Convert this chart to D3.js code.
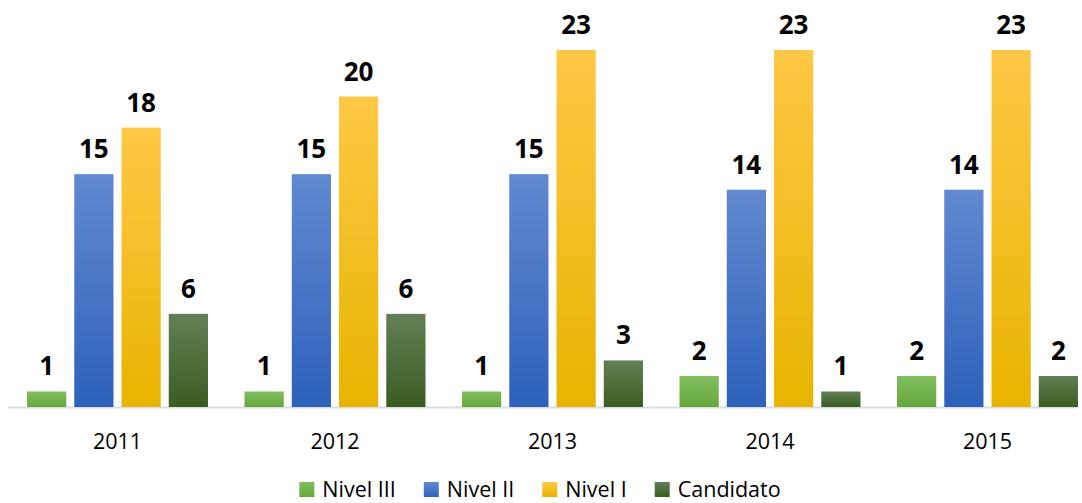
<!DOCTYPE html>
<html>
<head>
<meta charset="utf-8">
<script src="https://cdn.jsdelivr.net/npm/d3@7"></script>
<style>
  html, body { margin: 0; padding: 0; background: #fff; }
  svg { display: block; }
</style>
</head>
<body>
<svg id="chart" width="1082" height="503"></svg>
<script>
const years = ["2011", "2012", "2013", "2014", "2015"];
const seriesNames = ["Nivel III", "Nivel II", "Nivel I", "Candidato"];
const nivelIII = [1, 1, 1, 2, 2];
const nivelII = [15, 15, 15, 14, 14];
const nivelI = [18, 20, 23, 23, 23];
const candidato = [6, 6, 3, 1, 2];
const seriesColors = [
  ["#81be5f", "#66a73b"],
  ["#6189d0", "#2e61bb"],
  ["#ffc846", "#e7b400"],
  ["#637f56", "#3a5d21"]
];

const seriesValues = [nivelIII, nivelII, nivelI, candidato];
const svg = d3.select("#chart");

const defs = svg.append("defs");
seriesColors.forEach((c, i) => {
  const g = defs.append("linearGradient").attr("id", "grad" + i)
    .attr("x1", 0).attr("y1", 0).attr("x2", 0).attr("y2", 1);
  g.append("stop").attr("offset", "0%").attr("stop-color", c[0]);
  g.append("stop").attr("offset", "100%").attr("stop-color", c[1]);
});

const x0 = d3.scaleBand().domain(years).range([8.75, 1096.25])
  .paddingInner(0.168).paddingOuter(0.084);
const x1 = d3.scaleBand().domain(seriesNames).range([0, x0.bandwidth()])
  .paddingInner(0.17).paddingOuter(0);
const y = d3.scaleLinear().domain([0, 23]).range([407, 50]);

// axis line
svg.append("line")
  .attr("x1", 8).attr("x2", 1078)
  .attr("y1", 407.5).attr("y2", 407.5)
  .attr("stroke", "#d9dde5").attr("stroke-width", 2);

const groups = svg.selectAll("g.year").data(years).enter().append("g")
  .attr("class", "year")
  .attr("transform", d => `translate(${x0(d)},0)`);

seriesNames.forEach((s, si) => {
  groups.append("rect")
    .attr("x", x1(s))
    .attr("width", x1.bandwidth())
    .attr("y", (d, i) => y(seriesValues[si][i]))
    .attr("height", (d, i) => y(0) - y(seriesValues[si][i]))
    .attr("fill", `url(#grad${si})`);
  groups.append("text")
    .attr("x", x1(s) + x1.bandwidth() / 2)
    .attr("y", (d, i) => y(seriesValues[si][i]) - 16)
    .attr("text-anchor", "middle")
    .attr("font-family", "'Open Sans', sans-serif")
    .attr("font-weight", "bold")
    .attr("font-size", 26)
    .attr("fill", "#000")
    .text((d, i) => seriesValues[si][i]);
});

// x axis labels
svg.append("g").selectAll("text").data(years).enter().append("text")
  .attr("x", d => x0(d) + x0.bandwidth() / 2)
  .attr("y", 449)
  .attr("text-anchor", "middle")
  .attr("font-family", "'Open Sans', sans-serif")
  .attr("font-size", 21.5)
  .attr("fill", "#000")
  .text(d => d);

// legend
const legend = svg.append("g");
let cx = 0;
seriesNames.forEach((s, si) => {
  const g = legend.append("g");
  g.append("rect").attr("x", cx).attr("y", 482).attr("width", 15).attr("height", 15)
    .attr("fill", `url(#grad${si})`);
  const t = g.append("text").attr("x", cx + 23).attr("y", 497)
    .attr("font-family", "'Open Sans', sans-serif")
    .attr("font-size", 21.5)
    .attr("fill", "#000")
    .text(s);
  const w = t.node().getComputedTextLength();
  cx = cx + 23 + w + 28;
});
const totalW = cx - 28;
legend.attr("transform", `translate(${540 - totalW / 2},0)`);
</script>
</body>
</html>
